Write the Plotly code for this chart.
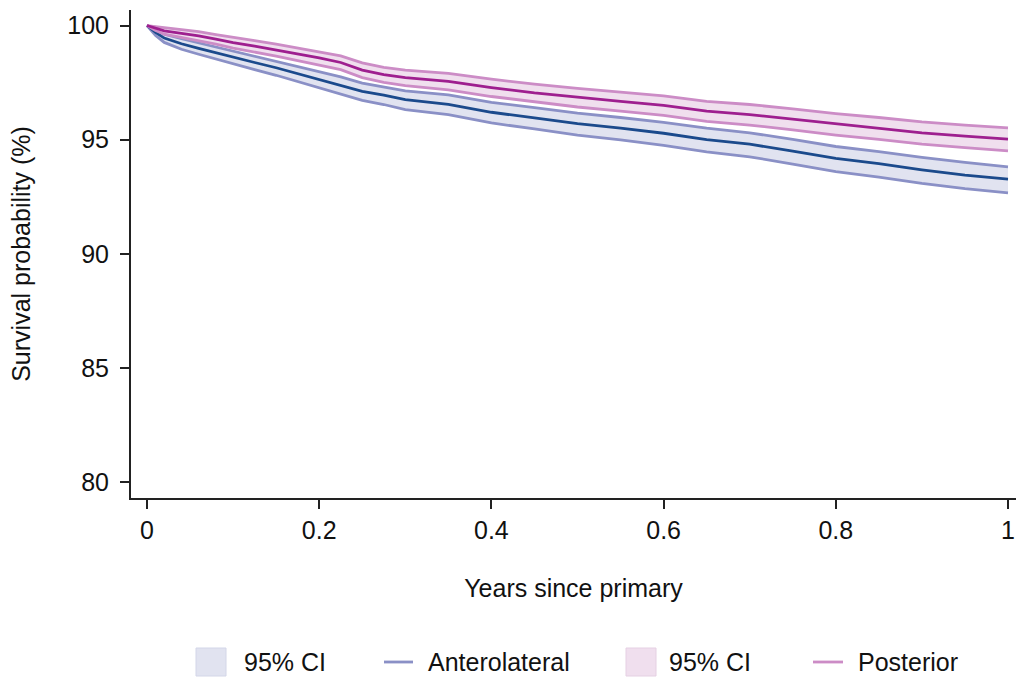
import plotly.graph_objects as go

# Time grid (years since primary)
years = [0, 0.01, 0.02, 0.04, 0.06, 0.08, 0.1, 0.125, 0.15, 0.175, 0.2, 0.225, 0.25, 0.275,
         0.3, 0.35, 0.4, 0.45, 0.5, 0.55, 0.6, 0.65, 0.7, 0.75, 0.8, 0.85, 0.9, 0.95, 1.0]

# Anterolateral survival (%) and 95% CI
antero = [100, 99.7, 99.45, 99.2, 99.0, 98.8, 98.6, 98.38, 98.15, 97.9, 97.65, 97.4, 97.12, 96.95,
          96.75, 96.55, 96.2, 95.95, 95.7, 95.5, 95.28, 95.0, 94.8, 94.5, 94.18, 93.95, 93.68, 93.45, 93.27]
antero_hi = [100, 99.82, 99.62, 99.42, 99.24, 99.06, 98.87, 98.67, 98.45, 98.22, 97.98, 97.75, 97.48, 97.32,
             97.14, 96.96, 96.63, 96.4, 96.16, 95.97, 95.76, 95.5, 95.3, 95.01, 94.7, 94.48, 94.22, 94.0, 93.81]
antero_lo = [100, 99.56, 99.26, 98.96, 98.74, 98.53, 98.31, 98.07, 97.82, 97.55, 97.28, 97.02, 96.72, 96.54,
             96.32, 96.1, 95.73, 95.47, 95.2, 94.99, 94.75, 94.46, 94.25, 93.93, 93.6, 93.36, 93.08, 92.85, 92.67]

# Posterior survival (%) and 95% CI
poster = [100, 99.88, 99.77, 99.66, 99.55, 99.4, 99.25, 99.1, 98.93, 98.75, 98.58, 98.38, 98.05, 97.85,
          97.72, 97.55, 97.28, 97.05, 96.85, 96.68, 96.5, 96.25, 96.1, 95.9, 95.68, 95.5, 95.3, 95.15, 95.02]
poster_hi = [100, 99.96, 99.9, 99.82, 99.73, 99.6, 99.47, 99.34, 99.18, 99.02, 98.86, 98.67, 98.36, 98.17,
             98.05, 97.9, 97.65, 97.43, 97.25, 97.09, 96.92, 96.68, 96.54, 96.35, 96.14, 95.97, 95.78, 95.64, 95.52]
poster_lo = [100, 99.78, 99.62, 99.48, 99.35, 99.18, 99.01, 98.84, 98.66, 98.46, 98.28, 98.07, 97.72, 97.51,
             97.37, 97.18, 96.89, 96.65, 96.43, 96.25, 96.06, 95.8, 95.64, 95.43, 95.2, 95.01, 94.8, 94.65, 94.51]

x_ticks = [0, 0.2, 0.4, 0.6, 0.8, 1]
x_labels = ["0", "0.2", "0.4", "0.6", "0.8", "1"]
y_ticks = [80, 85, 90, 95, 100]
legend_labels = ["95% CI", "Anterolateral", "95% CI", "Posterior"]

BLUE_MAIN = "#1b4a8c"
BLUE_CI = "#8a90c6"
BLUE_FILL = "#e1e3f0"
PINK_MAIN = "#9e1f8f"
PINK_CI = "#cc8cc6"
PINK_FILL = "#f0dfee"

FONT = "Liberation Sans, Arial, Helvetica, sans-serif"
FS = 25

# plot area in pixels (for legend placement below the axes)
W, H = 1016, 677
L, R, T, B = 131, 0, 10, 179
PW, PH = W - L - R, H - T - B


def px_x(px):
    return (px - L) / PW


def px_y(py):
    return (H - B - py) / PH


fig = go.Figure()


def add_group(lo, hi, main, ci_col, fill_col, main_col):
    fig.add_trace(go.Scatter(x=years, y=lo, mode="lines", line=dict(width=0, color=fill_col),
                             showlegend=False, hoverinfo="skip"))
    fig.add_trace(go.Scatter(x=years, y=hi, mode="lines", line=dict(width=0, color=fill_col),
                             fill="tonexty", fillcolor=fill_col, showlegend=False, hoverinfo="skip"))
    fig.add_trace(go.Scatter(x=years, y=lo, mode="lines", line=dict(width=2.8, color=ci_col),
                             showlegend=False))
    fig.add_trace(go.Scatter(x=years, y=hi, mode="lines", line=dict(width=2.8, color=ci_col),
                             showlegend=False))
    fig.add_trace(go.Scatter(x=years, y=main, mode="lines", line=dict(width=2.8, color=main_col),
                             showlegend=False))


add_group(antero_lo, antero_hi, antero, BLUE_CI, BLUE_FILL, BLUE_MAIN)
add_group(poster_lo, poster_hi, poster, PINK_CI, PINK_FILL, PINK_MAIN)

# Legend (drawn below the plot)
legend_items = [
    ("box", 196, 226, BLUE_FILL, "#d3d6e8", 242),
    ("line", 384, 413, BLUE_CI, None, 426),
    ("box", 626, 656, PINK_FILL, "#e5d0e3", 667),
    ("line", 813, 843, PINK_CI, None, 856),
]
LEG_Y = 662
for (kind, x0, x1, col, bcol, tx), label in zip(legend_items, legend_labels):
    if kind == "box":
        fig.add_shape(type="rect", xref="paper", yref="paper",
                      x0=px_x(x0), x1=px_x(x1), y0=px_y(676), y1=px_y(648),
                      fillcolor=col, line=dict(color=bcol, width=1))
    else:
        fig.add_shape(type="line", xref="paper", yref="paper",
                      x0=px_x(x0), x1=px_x(x1), y0=px_y(LEG_Y), y1=px_y(LEG_Y),
                      line=dict(color=col, width=2.8))
    fig.add_annotation(text=label, xref="paper", yref="paper", x=px_x(tx), y=px_y(LEG_Y),
                       xanchor="left", yanchor="middle", showarrow=False,
                       font=dict(family=FONT, size=FS, color="#111111"))

fig.update_layout(
    width=W, height=H,
    margin=dict(l=L, r=R, t=T, b=B, autoexpand=False),
    paper_bgcolor="white", plot_bgcolor="white",
    font=dict(family=FONT, size=FS, color="#111111"),
    showlegend=False,
    xaxis=dict(range=[-0.01858, 1.00929], tickvals=x_ticks, ticktext=x_labels,
               showgrid=False, zeroline=False, showline=True, linecolor="#222222", linewidth=2,
               ticks="outside", ticklen=9, tickwidth=1.5, tickcolor="#222222",
               ticklabelstandoff=0, automargin=False,
               title=dict(text="Years since primary", standoff=36, font=dict(size=FS))),
    yaxis=dict(range=[79.30, 100.68], tickvals=y_ticks,
               showgrid=False, zeroline=False, showline=True, linecolor="#222222", linewidth=2,
               ticks="outside", ticklen=9, tickwidth=1.5, tickcolor="#222222",
               ticklabelstandoff=6, automargin=False,
               title=dict(text="Survival probability (%)", standoff=30, font=dict(size=FS))),
)

fig.write_html("out.html",
               config={"displayModeBar": False},
               post_script="document.body.style.margin='0px';document.body.style.overflow='hidden';")
